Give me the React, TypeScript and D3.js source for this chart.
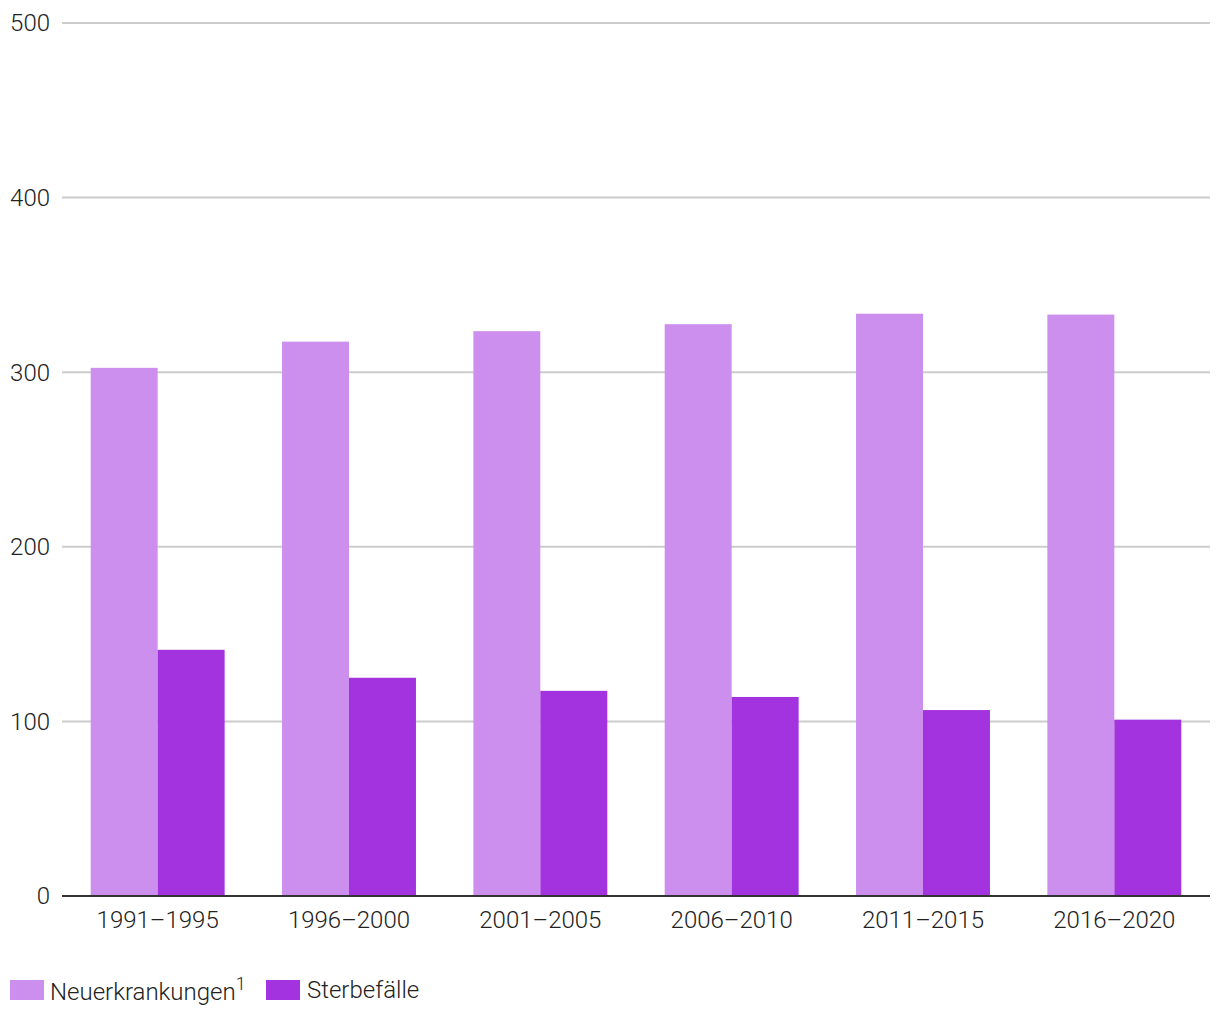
import React from 'react';
import * as d3 from 'd3';

const periods = ['1991–1995', '1996–2000', '2001–2005', '2006–2010', '2011–2015', '2016–2020'];
const neuerkrankungen = [302.5, 317.5, 323.5, 327.5, 333.5, 333];
const sterbefaelle = [141, 125, 117.5, 114, 106.5, 101];
const yTicks = [0, 100, 200, 300, 400, 500];

const seriesNames = ['Neuerkrankungen', 'Sterbefälle'];
const colors = ['#cc8fee', '#a333df'];

const W = 1220;
const H = 1020;
const margin = { left: 62, right: 10, top: 23, bottom: 124 };

const App: React.FC = () => {
  const innerW = W - margin.left - margin.right;
  const plotBottom = H - margin.bottom;

  const x = d3.scaleBand<string>()
    .domain(periods)
    .range([margin.left, margin.left + innerW])
    .paddingInner(0.3)
    .paddingOuter(0.15);

  const x1 = d3.scaleBand<string>()
    .domain(seriesNames)
    .range([0, x.bandwidth()]);

  const y = d3.scaleLinear().domain([0, 500]).range([plotBottom, margin.top]);

  const series = [neuerkrankungen, sterbefaelle];
  const font = 'Roboto, sans-serif';

  return (
    <svg width={W} height={H} style={{ position: 'absolute', left: 0, top: 0, background: '#fff' }}>
      {yTicks.map(t => (
        <g key={t}>
          {t > 0 && (
            <line x1={margin.left} x2={margin.left + innerW} y1={y(t)} y2={y(t)} stroke="#cccccc" strokeWidth={2} />
          )}
          <text x={50} y={y(t)} dy="0.35em" textAnchor="end" fontFamily={font} fontWeight={300} fontSize={24} fill="#222">
            {t}
          </text>
        </g>
      ))}
      {series.map((vals, si) =>
        vals.map((v, i) => (
          <rect
            key={`${si}-${i}`}
            x={(x(periods[i]) ?? 0) + (x1(seriesNames[si]) ?? 0)}
            y={y(v)}
            width={x1.bandwidth()}
            height={plotBottom - y(v)}
            fill={colors[si]}
          />
        ))
      )}
      <line x1={margin.left} x2={margin.left + innerW} y1={plotBottom} y2={plotBottom} stroke="#333" strokeWidth={2} />
      {periods.map(p => (
        <text key={p} x={(x(p) ?? 0) + x.bandwidth() / 2} y={928} textAnchor="middle" fontFamily={font} fontWeight={300} fontSize={24} fill="#222">
          {p}
        </text>
      ))}
      <g fontFamily={font} fontWeight={300} fontSize={24} fill="#222">
        <rect x={10} y={980} width={34} height={20} fill={colors[0]} />
        <text x={50} y={1000}>
          Neuerkrankungen
          <tspan dy={-10} fontSize={18}>1</tspan>
        </text>
        <rect x={266} y={980} width={34} height={20} fill={colors[1]} />
        <text x={307} y={998}>Sterbefälle</text>
      </g>
    </svg>
  );
};

export default App;
